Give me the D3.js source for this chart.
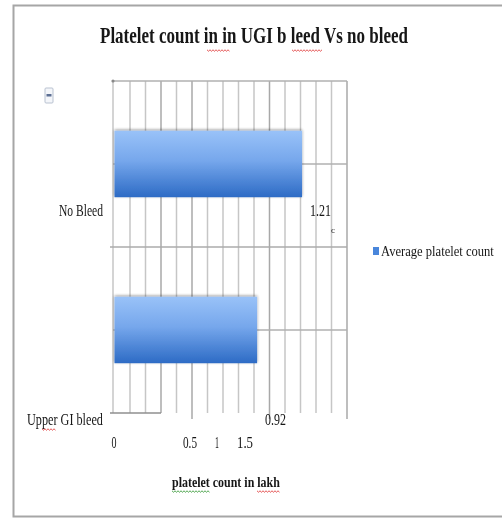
<!DOCTYPE html>
<html>
<head>
<meta charset="utf-8">
<script src="https://cdn.jsdelivr.net/npm/d3@7"></script>
<style>
  html, body { margin: 0; padding: 0; background: #fff; }
  svg { display: block; }
  text { font-family: "Liberation Serif", "DejaVu Serif", serif; fill: #161616; }
</style>
</head>
<body>
<svg id="chart" width="502" height="519"></svg>
<script>
// Chart content
const title = "Platelet count in in UGI b leed Vs no bleed";
const categories = ["No Bleed", "Upper GI bleed"];
const averagePlatelet = [1.21, 0.92];          // lakh
const valueLabels = ["1.21", "0.92"];
const seriesName = "Average platelet count";
const xTickLabels = ["0", "0.5", "1", "1.5"];
const xAxisTitle = "platelet count in lakh";

const svg = d3.select("#chart");

// Outer chart frame
svg.append("rect")
  .attr("x", 13.5).attr("y", 5.5).attr("width", 500).attr("height", 511)
  .attr("fill", "#fff").attr("stroke", "#a6a6a6").attr("stroke-width", 2);

// Plot area
const plot = { left: 113, right: 347, top: 81, bottom: 413 };

const x = d3.scaleLinear().domain([0, 1.5]).range([plot.left + 1.5, plot.right]);
const y = d3.scaleBand().domain(categories)
  .range([plot.top, plot.bottom]).paddingInner(0.6).paddingOuter(0.3);

const defs = svg.append("defs");
const grad = defs.append("linearGradient").attr("id", "barFill")
  .attr("x1", 0).attr("y1", 0).attr("x2", 0).attr("y2", 1);
grad.append("stop").attr("offset", "0%").attr("stop-color", "#99c2f8");
grad.append("stop").attr("offset", "45%").attr("stop-color", "#76a7ec");
grad.append("stop").attr("offset", "100%").attr("stop-color", "#2d6bc5");

const shadow = defs.append("filter").attr("id", "barShadow")
  .attr("x", "-10%").attr("y", "-20%").attr("width", "120%").attr("height", "140%");
shadow.append("feGaussianBlur").attr("in", "SourceAlpha").attr("stdDeviation", 1.6).attr("result", "b");
shadow.append("feOffset").attr("in", "b").attr("dx", 0).attr("dy", -1.5).attr("result", "o");
shadow.append("feComponentTransfer").attr("in", "o").attr("result", "s")
  .append("feFuncA").attr("type", "linear").attr("slope", 0.45);
const m = shadow.append("feMerge");
m.append("feMergeNode").attr("in", "s");
m.append("feMergeNode").attr("in", "SourceGraphic");

const soft = defs.append("filter").attr("id", "soft");
soft.append("feGaussianBlur").attr("stdDeviation", 0.35);

const g = svg.append("g").attr("filter", "url(#soft)");

// Condensed serif text: draw at a given size, then squeeze horizontally
// so the run spans `width` pixels starting at x0 (anchor "start"/"end"/"middle").
function condensed(parent, str, x0, y0, size, width, anchor = "start", weight = "normal") {
  const t = parent.append("text")
    .attr("font-size", size).attr("font-weight", weight)
    .text(str);
  const natural = t.node().getComputedTextLength();
  const k = width / natural;
  const left = anchor === "end" ? x0 - width : anchor === "middle" ? x0 - width / 2 : x0;
  t.attr("transform", `translate(${left},${y0}) scale(${k},1)`);
  return t;
}

// Vertical gridlines every 0.1
const gridVals = d3.range(0, 1.5001, 0.1).map(v => +v.toFixed(1));
const major = new Set([0.3, 0.5, 1.0, 1.5]);
g.append("g").selectAll("line").data(gridVals).join("line")
  .attr("x1", (d, i) => i === 0 ? plot.left : x(d))
  .attr("x2", (d, i) => i === 0 ? plot.left : x(d))
  .attr("y1", plot.top)
  .attr("y2", d => (d === 0.5 || d === 1.0 || d === 1.5) ? plot.bottom + 6 : plot.bottom)
  .attr("stroke", d => major.has(d) ? "#a8a8a8" : "#c6c6c6")
  .attr("stroke-width", 1.5);

// Top border of the plot
g.append("line")
  .attr("x1", plot.left).attr("x2", plot.right)
  .attr("y1", plot.top).attr("y2", plot.top)
  .attr("stroke", "#b0b0b0").attr("stroke-width", 1.6);
g.append("circle").attr("cx", plot.left).attr("cy", plot.top).attr("r", 1.6).attr("fill", "#888");

// Horizontal lines through bar centres and between categories
const centres = categories.map(c => y(c) + y.bandwidth() / 2);
g.append("g").selectAll("line").data(centres).join("line")
  .attr("x1", plot.left).attr("x2", plot.right)
  .attr("y1", d => d).attr("y2", d => d)
  .attr("stroke", "#b0b0b0").attr("stroke-width", 1.5);
const sep = (centres[0] + centres[1]) / 2;
g.append("line")
  .attr("x1", plot.left - 3).attr("x2", plot.right)
  .attr("y1", sep).attr("y2", sep)
  .attr("stroke", "#ababab").attr("stroke-width", 1.5);
// Partial baseline of the category axis
g.append("line")
  .attr("x1", plot.left - 3).attr("x2", x(0.3))
  .attr("y1", plot.bottom).attr("y2", plot.bottom)
  .attr("stroke", "#8f8f8f").attr("stroke-width", 1.3);

// Bars
g.append("g").selectAll("rect").data(categories).join("rect")
  .attr("x", x(0))
  .attr("y", d => y(d))
  .attr("width", (d, i) => x(averagePlatelet[i]) - x(0))
  .attr("height", y.bandwidth())
  .attr("fill", "url(#barFill)")
  .attr("filter", "url(#barShadow)");

// Category labels and value labels share a row below each bar
const rowY = [centres[0] + 52, centres[1] + 95];
const catWidths = [44, 76];
const labels = g.append("g");
categories.forEach((c, i) =>
  condensed(labels, c, plot.left - 10, rowY[i], 17, catWidths[i], "end"));
valueLabels.forEach((v, i) =>
  condensed(labels, v, x(averagePlatelet[i]) + 8, rowY[i], 17, 21));
labels.append("text").attr("x", x(averagePlatelet[0]) + 29).attr("y", rowY[0] + 17)
  .attr("font-size", 9).attr("fill", "#666").text("c");

// X tick labels (packed to the left under the plot)
const tickX = [plot.left + 1, x(0.5) - 2, x(0.5) + 25, x(0.5) + 53];
const tickW = [5, 14, 4, 16];
const ticks = g.append("g");
xTickLabels.forEach((t, i) => condensed(ticks, t, tickX[i], 448, 17, tickW[i], "middle"));

// Axis title
condensed(g, xAxisTitle, 172, 487, 15, 108, "start", "bold");

// Chart title
condensed(g, title, 100, 43, 23, 308, "start", "bold");

// Spell-check squiggles under a few words
function squiggle(x0, x1, yy, color) {
  const pts = [];
  for (let xx = x0, k = 0; xx <= x1; xx += 1.5, k++) pts.push([xx, yy + (k % 2 ? 1.2 : -0.2)]);
  g.append("path").attr("d", d3.line()(pts)).attr("fill", "none")
    .attr("stroke", color).attr("stroke-width", 0.9);
}
squiggle(207, 230, 50, "#e04040");
squiggle(292, 322, 50, "#e04040");
squiggle(42, 56, 429, "#e04040");
squiggle(172, 210, 491, "#3a9a3a");
squiggle(257, 280, 491, "#e04040");

// Legend
const legend = g.append("g").attr("transform", "translate(373,247)");
legend.append("rect").attr("width", 6).attr("height", 8).attr("fill", "#4a86db");
condensed(legend, seriesName, 8, 9, 14, 113);

// Small control icon at the upper left
const icon = g.append("g").attr("transform", "translate(45,88)");
icon.append("rect").attr("width", 8).attr("height", 15).attr("rx", 1)
  .attr("fill", "#f4f6fa").attr("stroke", "#b9c2d0");
icon.append("rect").attr("x", 1.5).attr("y", 6).attr("width", 5).attr("height", 2.5).attr("fill", "#5d6f94");
</script>
</body>
</html>
